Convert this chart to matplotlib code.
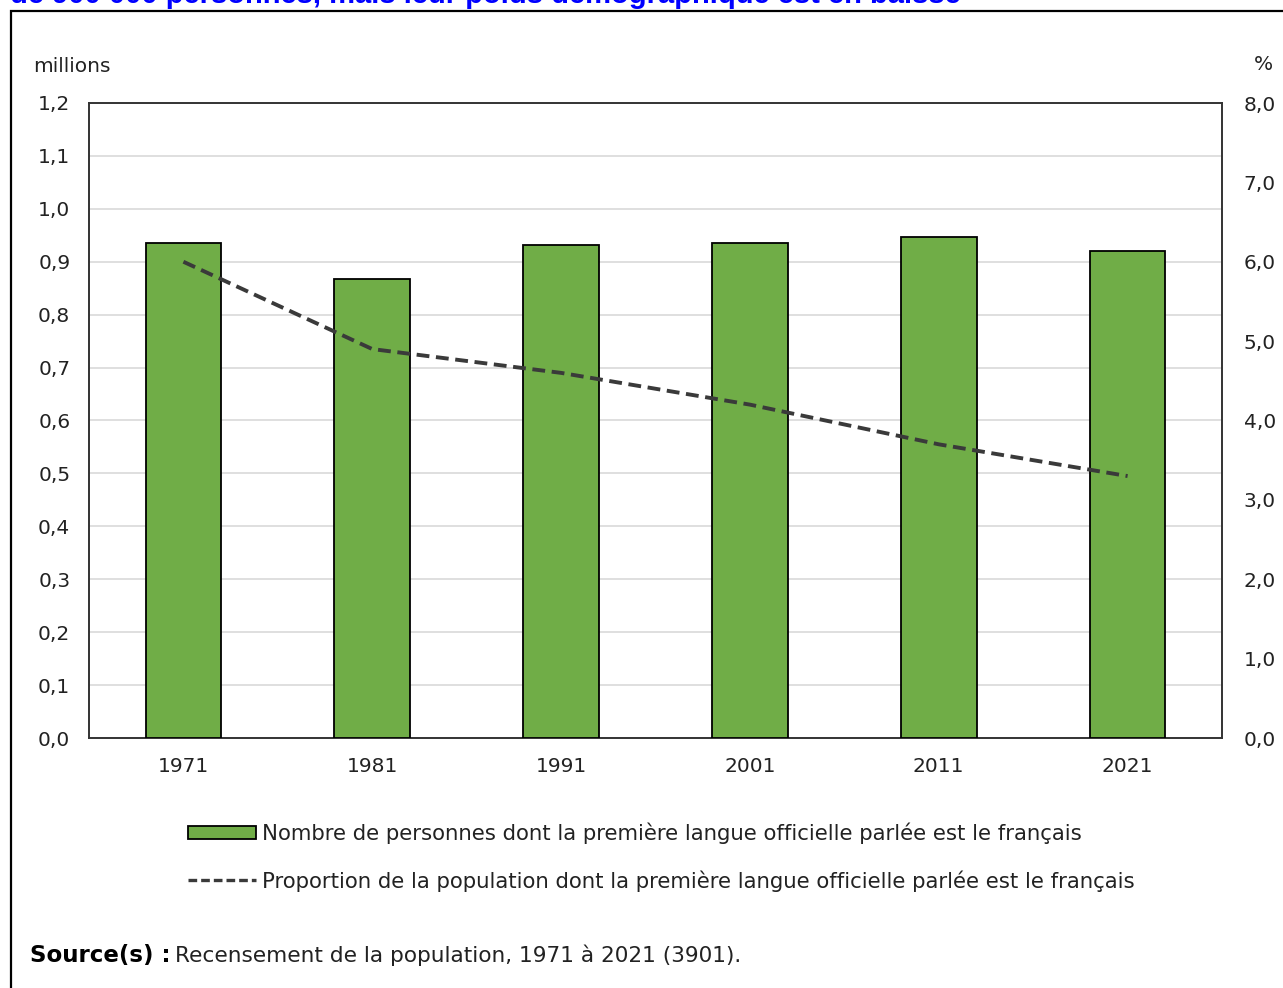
import matplotlib
matplotlib.use('Agg')
import matplotlib.pyplot as plt
from matplotlib.patches import Rectangle, Patch
from matplotlib.lines import Line2D

# Census years, counts (millions) and share of population (%)
years = ['1971', '1981', '1991', '2001', '2011', '2021']
persons_millions = [0.935, 0.867, 0.931, 0.935, 0.947, 0.920]
share_percent = [6.0, 4.9, 4.6, 4.2, 3.7, 3.3]

left_ticks = [0.0, 0.1, 0.2, 0.3, 0.4, 0.5, 0.6, 0.7, 0.8, 0.9, 1.0, 1.1, 1.2]
left_labels = ['0,0', '0,1', '0,2', '0,3', '0,4', '0,5', '0,6', '0,7', '0,8',
               '0,9', '1,0', '1,1', '1,2']
right_ticks = [0, 1, 2, 3, 4, 5, 6, 7, 8]
right_labels = ['0,0', '1,0', '2,0', '3,0', '4,0', '5,0', '6,0', '7,0', '8,0']

bar_label = 'Nombre de personnes dont la première langue officielle parlée est le français'
line_label = 'Proportion de la population dont la première langue officielle parlée est le français'
title = 'de 900 000 personnes, mais leur poids démographique est en baisse'

W, H = 1283, 988
green = '#70ad47'
txt = '#222222'
fs = 14.5
fs_leg = 15.3

fig = plt.figure(figsize=(W / 100, H / 100), dpi=100)
fig.patch.set_facecolor('white')

ax = fig.add_axes([89 / W, 1 - 738 / H, (1222 - 89) / W, (738 - 103) / H])
x = list(range(len(years)))
bars = ax.bar(x, persons_millions, width=0.40, color=green,
              edgecolor='black', linewidth=1.3, zorder=3)
ax.set_xlim(-0.5, 5.5)
ax.set_ylim(0, 1.2)
ax.set_yticks(left_ticks)
ax.set_yticklabels(left_labels)
ax.set_xticks(x)
ax.set_xticklabels(years)
ax.tick_params(length=0, labelsize=fs, colors=txt)
ax.tick_params(axis='y', pad=13.5)
ax.tick_params(axis='x', pad=14)
ax.grid(axis='y', color='#d9d9d9', linewidth=1.2, zorder=0)
for sp in ax.spines.values():
    sp.set_color('#333333')
    sp.set_linewidth(1.4)

ax2 = ax.twinx()
line, = ax2.plot(x, share_percent, color='#3a3a3a', linewidth=2.8,
                 dashes=(3.3, 1.7), zorder=4)
ax2.set_ylim(0, 8)
ax2.set_yticks(right_ticks)
ax2.set_yticklabels(right_labels)
ax2.tick_params(length=0, labelsize=fs, colors=txt, pad=15.5)
for sp in ax2.spines.values():
    sp.set_visible(False)

fig.text(33 / W, 1 - 66 / H, 'millions', fontsize=fs, color=txt,
         ha='left', va='center')
fig.text(1263 / W, 1 - 64 / H, '%', fontsize=fs, color=txt,
         ha='center', va='center')

handles = [Patch(facecolor=green, edgecolor='black', linewidth=1.3),
           Line2D([0], [0], color='#3a3a3a', linewidth=2.4, dashes=(2.6, 1.2))]
fig.legend(handles, [bar_label, line_label], loc='upper left',
           bbox_to_anchor=(177 / W, 1 - 812 / H), frameon=False,
           fontsize=fs_leg, labelcolor=txt, handlelength=3.2, handleheight=0.6,
           handletextpad=0.28, labelspacing=1.22, borderpad=0)

fig.text(30 / W, 1 - 955 / H, 'Source(s) :', fontsize=16.5, color='black',
         fontweight='bold', ha='left', va='center')
fig.text(175 / W, 1 - 955 / H, 'Recensement de la population, 1971 à 2021 (3901).',
         fontsize=15.6, color=txt, ha='left', va='center')

# outer frame, only its top and left edges fall inside the canvas
fig.add_artist(Rectangle((11 / W, -0.1), 1.2, (H - 11) / H + 0.1,
                         transform=fig.transFigure, fill=False,
                         edgecolor='black', linewidth=1.6))
fig.text(10 / W, 1 - 3 / H, title, fontsize=21, color='#0000ff',
         fontweight='bold', family='Liberation Sans', ha='left',
         va='baseline')

fig.savefig('out.png', dpi=100)
